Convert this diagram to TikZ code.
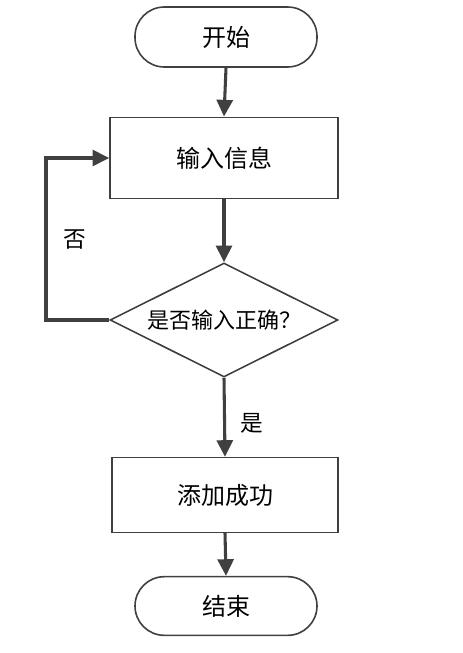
\documentclass[tikz,border=0pt]{standalone}
\usepackage{fontspec}
\newfontfamily\cjk{Noto Sans CJK SC}
\usetikzlibrary{shapes.geometric,arrows.meta}

\definecolor{linegray}{HTML}{404040}
\tikzset{
 terminal/.style={draw=linegray, line width=1.2pt, rounded corners=22pt, font=\cjk\fontsize{18}{21}\selectfont},
 process/.style={draw=linegray, line width=1.2pt, font=\cjk\fontsize{18}{21}\selectfont},
 decision/.style={diamond, aspect=2, draw=linegray, line width=1.2pt, inner sep=0pt, font=\cjk\fontsize{16.5}{19}\selectfont},
 flow/.style={draw=linegray, line width=2.3pt, -{Triangle[length=12.5pt,width=12pt]}},
 lbl/.style={font=\cjk\fontsize{17}{20}\selectfont}
}

\begin{document}
\begin{tikzpicture}[x=0.75pt,y=-0.75pt]
\useasboundingbox (0,0) rectangle (463,653);

 \node[terminal, minimum width=136.5pt, minimum height=45pt] at (226,37) (start) {开始};
 \node[process, minimum width=171pt, minimum height=61pt] at (224,158) (input) {输入信息};
 \node[decision, minimum width=171pt, minimum height=85.5pt] at (224,320) (check) {是否输入正确？};
 \node[process, minimum width=169.5pt, minimum height=56pt] at (225,495) (success) {添加成功};
 \node[terminal, minimum width=136.5pt, minimum height=44pt] at (226,606) (stop) {结束};
 \coordinate (corner) at (46,158);

\draw[flow] (start.south) -- (input.north);
\draw[flow] (input.south) -- (check.north);
\draw[flow] (check.west) -| (corner) |- (input.west);
\draw[flow] (check.south) -- (success.north);
\draw[flow] (success.south) -- (stop.north);

 \node[lbl] at (75,240) (no) {否};
 \node[lbl] at (252,423) (yes) {是};
\end{tikzpicture}
\end{document}
